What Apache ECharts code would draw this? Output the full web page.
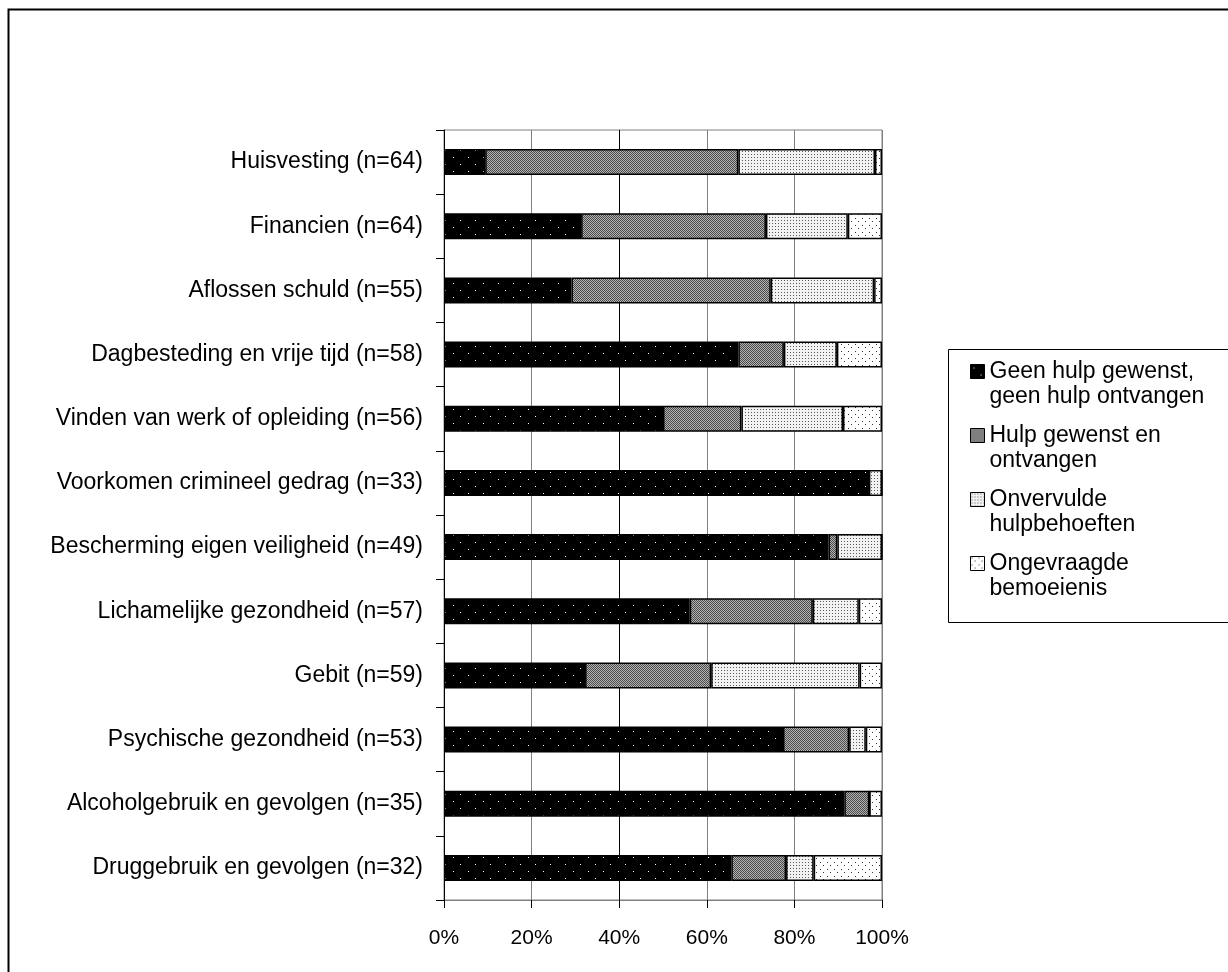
<!DOCTYPE html>
<html>
<head>
<meta charset="utf-8">
<script src="https://cdn.jsdelivr.net/npm/echarts@6/dist/echarts.min.js"></script>
<style>
  html, body { margin: 0; padding: 0; background: #fff; }
  #chart { width: 1228px; height: 972px; }
</style>
</head>
<body>
<div id="chart"></div>
<script>
const categories = [
  "Huisvesting (n=64)",
  "Financien (n=64)",
  "Aflossen schuld (n=55)",
  "Dagbesteding en vrije tijd (n=58)",
  "Vinden van werk of opleiding (n=56)",
  "Voorkomen crimineel gedrag (n=33)",
  "Bescherming eigen veiligheid (n=49)",
  "Lichamelijke gezondheid (n=57)",
  "Gebit (n=59)",
  "Psychische gezondheid (n=53)",
  "Alcoholgebruik en gevolgen (n=35)",
  "Druggebruik en gevolgen (n=32)"
]

// percentages per category
const geenHulp = [9.4, 31.3, 29.1, 67.2, 50.0, 97.0, 87.8, 56.1, 32.2, 77.4, 91.4, 65.6]
const hulpOntvangen = [57.8, 42.2, 45.5, 10.4, 17.9, 0, 2.0, 28.1, 28.8, 15.1, 5.7, 12.5]
const onvervuld = [31.2, 18.7, 23.6, 12.1, 23.2, 3.0, 10.2, 10.5, 33.9, 3.8, 0, 6.3]
const ongevraagd = [1.6, 7.8, 1.8, 10.3, 8.9, 0, 0, 5.3, 5.1, 3.7, 2.9, 15.6]

const seriesNames = [
  "Geen hulp gewenst,\ngeen hulp ontvangen",
  "Hulp gewenst en\nontvangen",
  "Onvervulde\nhulpbehoeften",
  "Ongevraagde\nbemoeienis"
]
const xTicks = [0, 20, 40, 60, 80, 100]

// small canvas tiles used as fill patterns
function makePattern(w, h, bg, dot, dots) {
  const c = document.createElement("canvas")
  c.width = w
  c.height = h
  const ctx = c.getContext("2d")
  ctx.fillStyle = bg
  ctx.fillRect(0, 0, w, h)
  ctx.fillStyle = dot
  dots.forEach(([x, y]) => ctx.fillRect(x, y, 1, 1))
  return { image: c, repeat: "repeat" }
}

const patterns = [
  makePattern(15, 14, "#000", "#fff", [[3, 3], [10, 10]]),
  makePattern(2, 2, "#b4b4b4", "#4a4a4a", [[0, 0], [1, 1]]),
  makePattern(3, 3, "#f2f2f2", "#5a5a5a", [[1, 1]]),
  makePattern(7, 7, "#fff", "#333", [[1, 1], [4, 4]])
]

const chart = echarts.init(document.getElementById("chart"))

const values = [geenHulp, hulpOntvangen, onvervuld, ongevraagd]

const option = {
  backgroundColor: "#fff",
  animation: false,
  textStyle: { fontFamily: "Liberation Sans, Arial, sans-serif" },
  grid: {
    left: 444,
    right: 346,
    top: 130,
    bottom: 72,
    show: true,
    borderColor: "#808080",
    borderWidth: 1
  },
  xAxis: {
    type: "value",
    min: 0,
    max: 100,
    interval: 20,
    axisLine: { show: true, lineStyle: { color: "#808080" } },
    axisTick: { show: true, length: 8, lineStyle: { color: "#000" } },
    axisLabel: {
      formatter: (v) => (xTicks.includes(v) ? v + "%" : ""),
      color: "#000",
      fontSize: 21,
      margin: 28
    },
    splitLine: {
      show: true,
      lineStyle: { color: ["#808080", "#808080", "#000", "#808080", "#808080", "#808080"], width: 1 }
    }
  },
  yAxis: {
    type: "category",
    data: categories,
    inverse: true,
    axisLine: { show: true, lineStyle: { color: "#000", width: 1 } },
    axisTick: { show: true, length: 8, inside: false, lineStyle: { color: "#000" } },
    axisLabel: { color: "#000", fontSize: 23, margin: 21 }
  },
  legend: {
    orient: "vertical",
    left: 970,
    top: 334,
    padding: 0,
    itemWidth: 14,
    itemHeight: 14,
    itemGap: -11,
    selectedMode: false,
    icon: "rect",
    itemStyle: { borderColor: "#000", borderWidth: 1 },
    // leading empty line keeps the icon beside the first text line
    formatter: (name) => "\n" + name,
    textStyle: { fontSize: 23, color: "#000", lineHeight: 25 },
    data: seriesNames
  },
  graphic: [
    {
      type: "rect",
      shape: { x: 8.5, y: 9.5, width: 1400, height: 1100 },
      style: { fill: null, stroke: "#000", lineWidth: 2 },
      silent: true
    },
    {
      type: "rect",
      shape: { x: 948.5, y: 349.5, width: 400, height: 273 },
      style: { fill: null, stroke: "#000", lineWidth: 1 },
      silent: true
    }
  ],
  series: seriesNames.map((name, i) => ({
    name: name,
    type: "bar",
    stack: "total",
    barWidth: 26,
    data: values[i],
    itemStyle: { color: patterns[i], borderColor: "#000", borderWidth: 1.5 }
  }))
}

chart.setOption(option)
</script>
</body>
</html>
